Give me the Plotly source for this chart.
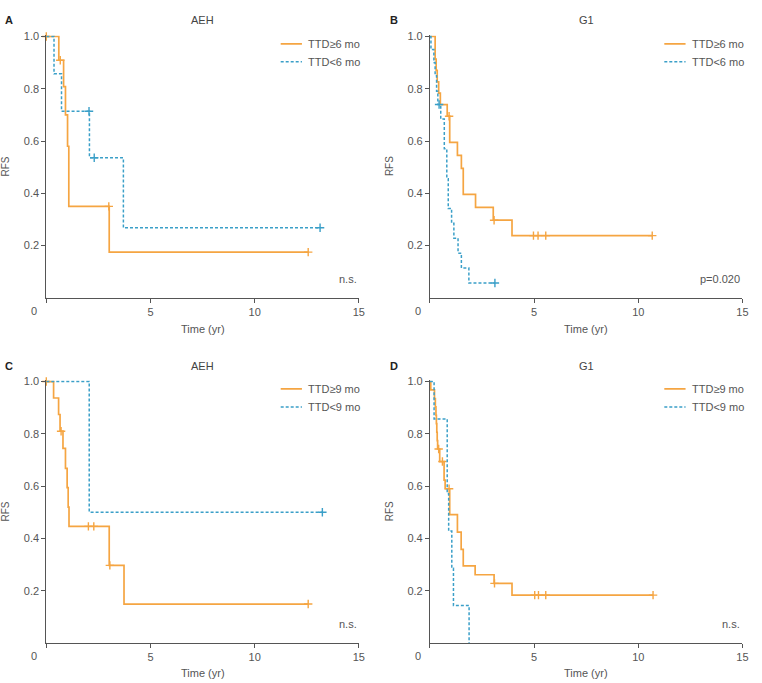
import plotly.graph_objects as go

# ---------------- data ----------------
# Panel A: AEH, TTD cut-off 6 months
A_hi_times = [0.60, 0.83, 0.92, 1.02, 1.08, 3.02]
A_hi_surv = [0.909, 0.808, 0.700, 0.580, 0.350, 0.175]
A_hi_cens = [0.0, 0.67, 3.00, 12.57]
A_lo_times = [0.37, 0.73, 2.07, 3.70]
A_lo_surv = [0.857, 0.714, 0.536, 0.268]
A_lo_cens = [2.05, 2.30, 13.14]

# Panel B: G1, TTD cut-off 6 months
B_hi_times = [0.25, 0.30, 0.35, 0.42, 0.50, 0.83, 0.95, 1.32, 1.51, 1.60, 2.19, 3.04, 3.94]
B_hi_surv = [0.913, 0.870, 0.826, 0.783, 0.739, 0.695, 0.595, 0.545, 0.495, 0.396, 0.346, 0.297, 0.238]
B_hi_cens = [0.92, 3.08, 4.97, 5.19, 5.56, 10.67]
B_lo_times = [0.05, 0.19, 0.25, 0.32, 0.38, 0.52, 0.69, 0.81, 0.88, 1.04, 1.15, 1.35, 1.51, 1.87]
B_lo_surv = [0.950, 0.900, 0.850, 0.790, 0.740, 0.684, 0.570, 0.456, 0.342, 0.285, 0.228, 0.171, 0.114, 0.057]
B_lo_cens = [0.44, 3.12]

# Panel C: AEH, TTD cut-off 9 months
C_hi_times = [0.35, 0.59, 0.66, 0.80, 0.92, 1.00, 1.05, 1.09, 3.02, 3.73]
C_hi_surv = [0.937, 0.874, 0.810, 0.744, 0.668, 0.594, 0.520, 0.446, 0.297, 0.149]
C_hi_cens = [0.0, 0.71, 2.02, 2.28, 3.05, 12.57]
C_lo_times = [2.06]
C_lo_surv = [0.500]
C_lo_cens = [13.25]

# Panel D: G1, TTD cut-off 9 months
D_hi_times = [0.04, 0.22, 0.26, 0.29, 0.31, 0.33, 0.35, 0.37, 0.47, 0.68, 0.73, 0.95, 1.32, 1.50, 1.60, 2.17, 3.08, 3.94]
D_hi_surv = [0.968, 0.935, 0.903, 0.871, 0.839, 0.806, 0.774, 0.742, 0.694, 0.623, 0.590, 0.491, 0.424, 0.358, 0.295, 0.261, 0.228, 0.183]
D_hi_cens = [0.42, 0.60, 0.92, 3.10, 5.03, 5.21, 5.56, 10.71]
D_lo_times = [0.20, 0.83, 0.90, 1.05, 1.13, 1.88]
D_lo_surv = [0.857, 0.571, 0.428, 0.286, 0.143, 0.0]
D_lo_cens = []
D_lo_end = 1.88

panel_letters = ["A", "B", "C", "D"]
panel_titles = ["AEH", "G1", "AEH", "G1"]
legend_hi = ["TTD≥6 mo", "TTD≥6 mo", "TTD≥9 mo", "TTD≥9 mo"]
legend_lo = ["TTD<6 mo", "TTD<6 mo", "TTD<9 mo", "TTD<9 mo"]
p_labels = ["n.s.", "p=0.020", "n.s.", "n.s."]
x_ticks = [0, 5, 10, 15]
x_ticktext = ["", "5", "10", "15"]
y_ticks = [0.2, 0.4, 0.6, 0.8, 1.0]
y_ticktext = ["0.2", "0.4", "0.6", "0.8", "1.0"]

# ---------------- style ----------------
ORANGE = "#F5A542"
BLUE = "#3A9FC8"
AXIS = "#555555"
TEXT = "#555555"
FONT = "Liberation Sans, Arial, sans-serif"
W, H = 762, 683

panels = [
    dict(hi=(A_hi_times, A_hi_surv, A_hi_cens, None), lo=(A_lo_times, A_lo_surv, A_lo_cens, None)),
    dict(hi=(B_hi_times, B_hi_surv, B_hi_cens, None), lo=(B_lo_times, B_lo_surv, B_lo_cens, None)),
    dict(hi=(C_hi_times, C_hi_surv, C_hi_cens, None), lo=(C_lo_times, C_lo_surv, C_lo_cens, None)),
    dict(hi=(D_hi_times, D_hi_surv, D_hi_cens, None), lo=(D_lo_times, D_lo_surv, D_lo_cens, D_lo_end)),
]

# pixel layout of the four plot areas
x_px = [(46.67, 361.67), (433.33, 748.33), (46.67, 361.67), (433.33, 748.33)]
y_px = [(30.4, 295.0), (30.4, 295.0), (378.0, 642.7), (378.0, 642.7)]
title_y_px = [15, 15, 364, 364]
letter_x_px = [3, 391.5, 3, 391.5]
xtitle_y_px = [326, 326, 673, 673]
ytitle_x_px = [6, 392.7, 6, 392.7]


def step_value(t, times, surv):
    v = 1.0
    for ti, si in zip(times, surv):
        if ti <= t:
            v = si
    return v


fig = go.Figure()
shapes = []
annotations = []

for i, p in enumerate(panels):
    n = "" if i == 0 else str(i + 1)
    xa, ya = "x" + n, "y" + n
    for key, color, dash, width in (("hi", ORANGE, "solid", 1.7), ("lo", BLUE, "3px,2px", 1.5)):
        times, surv, cens, end = p[key]
        if end is None:
            end = max(cens + times)
        xs = [0.0] + list(times) + [end]
        ys = [1.0] + list(surv) + [surv[-1]]
        fig.add_trace(go.Scatter(
            x=xs, y=ys, mode="lines", line=dict(color=color, width=width, dash=dash, shape="hv"),
            xaxis=xa, yaxis=ya, showlegend=False, hoverinfo="skip"))
        if cens:
            fig.add_trace(go.Scatter(
                x=cens, y=[step_value(c, times, surv) for c in cens], mode="markers",
                marker=dict(symbol="cross-thin", size=6, line=dict(color=color, width=1.4)),
                xaxis=xa, yaxis=ya, showlegend=False, hoverinfo="skip", cliponaxis=False))

    x0, x1 = x_px[i]
    y0, y1 = y_px[i]
    fig.update_layout({
        "xaxis" + n: dict(domain=[x0 / W, x1 / W], range=[0, 15], anchor=ya,
                          tickvals=x_ticks, ticktext=x_ticktext, ticks="outside", ticklen=4,
                          tickcolor=AXIS, showline=True, linecolor=AXIS, linewidth=1,
                          showgrid=False, zeroline=False,
                          tickfont=dict(family=FONT, size=11, color=TEXT)),
        "yaxis" + n: dict(domain=[1 - y1 / H, 1 - y0 / H], range=[0, 1.005], anchor=xa,
                          tickvals=y_ticks, ticktext=y_ticktext, ticks="outside", ticklen=4,
                          tickcolor=AXIS, showline=True, linecolor=AXIS, linewidth=1,
                          showgrid=False, zeroline=False,
                          tickfont=dict(family=FONT, size=11, color=TEXT)),
    })
    xd = xa + " domain"
    yd = ya + " domain"
    # small extension of the x axis line to the left of the origin
    shapes.append(dict(type="line", xref=xa, yref=ya, xsizemode="pixel", xanchor=0,
                       x0=-5, x1=0, y0=0, y1=0, line=dict(color=AXIS, width=1)))
    # legend samples
    shapes.append(dict(type="line", xref=xd, yref=ya, x0=0.750, x1=0.818, y0=0.972, y1=0.972,
                       line=dict(color=ORANGE, width=1.7)))
    shapes.append(dict(type="line", xref=xd, yref=ya, x0=0.750, x1=0.818, y0=0.903, y1=0.903,
                       line=dict(color=BLUE, width=1.5, dash="3px,2px")))
    annotations += [
        dict(text=legend_hi[i], xref=xd, yref=ya, x=0.831, y=0.972, xanchor="left", yanchor="middle",
             showarrow=False, font=dict(family=FONT, size=11, color=TEXT)),
        dict(text=legend_lo[i], xref=xd, yref=ya, x=0.831, y=0.903, xanchor="left", yanchor="middle",
             showarrow=False, font=dict(family=FONT, size=11, color=TEXT)),
        dict(text=p_labels[i], xref=xd, yref=ya, x=1.0, y=0.072, xanchor="right", yanchor="middle",
             showarrow=False, font=dict(family=FONT, size=11, color=TEXT)),
        dict(text=panel_titles[i], xref=xd, yref="paper", x=0.5, y=1 - title_y_px[i] / H,
             xanchor="center", yanchor="middle", showarrow=False,
             font=dict(family=FONT, size=11, color="#444444")),
        dict(text="<b>" + panel_letters[i] + "</b>", xref="paper", yref="paper",
             x=letter_x_px[i] / W, y=1 - title_y_px[i] / H, xanchor="left", yanchor="middle",
             showarrow=False, font=dict(family=FONT, size=11, color="#222222")),
        dict(text="Time (yr)", xref=xd, yref="paper", x=0.5, y=1 - xtitle_y_px[i] / H,
             xanchor="center", yanchor="middle", showarrow=False,
             font=dict(family=FONT, size=11, color=TEXT)),
        dict(text="RFS", xref="paper", yref=yd, x=ytitle_x_px[i] / W, y=0.5, textangle=-90,
             xanchor="center", yanchor="middle", showarrow=False,
             font=dict(family=FONT, size=10, color=TEXT)),
        dict(text="0", xref=xa, yref=ya, x=0, y=0, xshift=-12, yshift=-13,
             xanchor="center", yanchor="middle", showarrow=False,
             font=dict(family=FONT, size=11, color=TEXT)),
    ]

fig.update_layout(width=W, height=H, margin=dict(l=0, r=0, t=0, b=0),
                  paper_bgcolor="white", plot_bgcolor="white",
                  shapes=shapes, annotations=annotations, showlegend=False)
fig.write_html("out.html")
